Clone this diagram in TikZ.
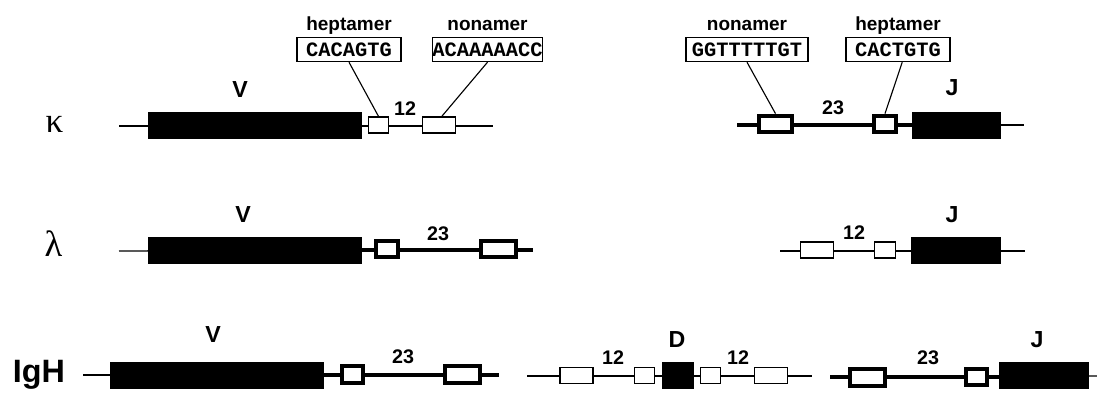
\documentclass[tikz,border=0pt]{standalone}
\usepackage{fontspec}
\setmainfont{Liberation Sans}
\setmonofont{Liberation Mono}
\newfontfamily\greekfont{Liberation Serif}
\usetikzlibrary{positioning}

\begin{document}
\begin{tikzpicture}[x=0.025cm,y=-0.025cm,
  thinline/.style={line width=0.9pt},
  thickline/.style={line width=2.8pt},
  leader/.style={line width=0.8pt},
  gene/.style={draw,fill=black,inner sep=0pt,minimum height=0.64cm},
  rss/.style={draw,fill=white,line width=0.9pt,inner sep=0pt,minimum height=0.4cm},
  rssbold/.style={draw,fill=white,line width=2.8pt,inner sep=0pt,minimum height=0.42cm},
  seqbox/.style={draw,line width=1pt,inner sep=0pt,minimum height=0.6cm,font=\fontsize{14.5}{16}\selectfont\ttfamily\bfseries},
  rsslabel/.style={font=\fontsize{13.5}{15}\selectfont\bfseries,inner sep=1pt,text height=0.75em,text depth=0.22em},
  genelabel/.style={font=\fontsize{16.5}{18}\selectfont\bfseries,inner sep=0pt},
  spacer/.style={font=\fontsize{14}{16}\selectfont\bfseries,inner sep=0pt}]
\useasboundingbox (0,0) rectangle (1097,393);

% kappa locus
\node[font=\greekfont\fontsize{25}{27}\selectfont,inner sep=0pt] (kappa) at (54.5,124) {κ};
\coordinate (k0) at (119,126); \coordinate (k1) at (493,126);
\coordinate (k2) at (737,125); \coordinate (k3) at (912,125); \coordinate (k4) at (1024,125);
\draw[thinline] (k0) -- (k1);
\draw[thickline] (k2) -- (k3); \draw[thinline] (k3) -- (k4);
\node[gene,minimum width=5.325cm] (kV) at (254.5,125.5) {};
\node[rss,minimum width=0.5cm] (kVh) at (378.5,125) {};
\node[rss,minimum width=0.82cm] (kVn) at (439,125) {};
\node[rssbold,minimum width=0.82cm] (kJn) at (775.5,124) {};
\node[rssbold,minimum width=0.55cm] (kJh) at (885,124) {};
\node[gene,minimum width=2.2cm] (kJ) at (956,125) {};
\node[genelabel] (kVlab) at (240,90) {V};
\node[spacer] (kVsp) at (405,109) {12};
\node[genelabel] (kJlab) at (952,88) {J};
\node[spacer] (kJsp) at (833,108) {23};

% Sequences
\node[seqbox,minimum width=2.6cm] (kVhseq) at (349,49.5) {CACAGTG};
\node[seqbox,minimum width=2.675cm] (kVnseq) at (487.5,49.5) {ACAAAAACC};
\node[seqbox,minimum width=3.05cm] (kJnseq) at (747,49.5) {GGTTTTTGT};
\node[seqbox,minimum width=2.6cm] (kJhseq) at (898,49.5) {CACTGTG};
\node[rsslabel,above=1pt of kVhseq] (kVhlab) {heptamer};
\node[rsslabel,above=1pt of kVnseq] (kVnlab) {nonamer};
\node[rsslabel,above=1pt of kJnseq] (kJnlab) {nonamer};
\node[rsslabel,above=1pt of kJhseq] (kJhlab) {heptamer};
\draw[leader] (kVhseq.south) -- (kVh.north);
\draw[leader] (kVnseq.south) -- ([xshift=2pt]kVn.north);
\draw[leader] (kJnseq.south) -- (kJn.north);
\draw[leader] ([xshift=3pt]kJhseq.south) -- (kJh.north);

% lambda locus
\node[font=\greekfont\fontsize{26}{28}\selectfont,inner sep=0pt] (lambda) at (53.5,243.5) {λ};
\coordinate (l0) at (119,251); \coordinate (l1) at (361,250); \coordinate (l2) at (533,250);
\coordinate (l3) at (780,251); \coordinate (l4) at (1025,251);
\draw[thinline] (l0) -- (l1);
\draw[thickline] (l1) -- (l2);
\draw[thinline] (l3) -- (l4);
\node[gene,minimum width=5.325cm] (lV) at (254.5,250) {};
\node[rssbold,minimum width=0.55cm] (lVh) at (387,249) {};
\node[rssbold,minimum width=0.875cm] (lVn) at (498.5,249) {};
\node[rss,minimum width=0.82cm] (lJn) at (817,250) {};
\node[rss,minimum width=0.52cm] (lJh) at (885,250) {};
\node[gene,minimum width=2.225cm] (lJ) at (955.5,250) {};
\node[genelabel] (lVlab) at (243,215) {V};
\node[spacer] (lVsp) at (438,234) {23};
\node[genelabel] (lJlab) at (952,215) {J};
\node[spacer] (lJsp) at (854,233) {12};

% heavy chain locus
\node[font=\fontsize{23}{25}\selectfont\bfseries] (igh) at (39,375) {IgH};
\coordinate (h0) at (83,375); \coordinate (h1) at (323,375); \coordinate (h2) at (499,375);
\coordinate (h3) at (527,376); \coordinate (h4) at (812,376);
\coordinate (h5) at (830,377); \coordinate (h6) at (1000,377); \coordinate (h7) at (1097,376);
\draw[thinline] (h0) -- (h1);
\draw[thickline] (h1) -- (h2);
\draw[thinline] (h3) -- (h4);
\draw[thickline] (h5) -- (h6); \draw[thinline] (h6) -- (h7);
\node[gene,minimum width=5.325cm] (hV) at (216.5,375) {};
\node[rssbold,minimum width=0.525cm] (hVh) at (352.5,374.5) {};
\node[rssbold,minimum width=0.875cm] (hVn) at (462.5,374.5) {};
\node[rss,minimum width=0.82cm] (hDn1) at (576.5,375.5) {};
\node[rss,minimum width=0.5cm] (hDh1) at (644.5,375.5) {};
\node[gene,minimum width=0.775cm] (hD) at (677.5,375.5) {};
\node[rss,minimum width=0.5cm] (hDh2) at (710.5,375.5) {};
\node[rss,minimum width=0.82cm] (hDn2) at (771,375.5) {};
\node[rssbold,minimum width=0.875cm] (hJn) at (867.5,377.5) {};
\node[rssbold,minimum width=0.525cm] (hJh) at (976.5,377) {};
\node[gene,minimum width=2.225cm] (hJ) at (1043.5,375.5) {};
\node[genelabel] (hVlab) at (213,335) {V};
\node[spacer] (hVsp) at (403,357) {23};
\node[genelabel] (hDlab) at (677,340) {D};
\node[spacer] (hDsp1) at (613,358) {12};
\node[spacer] (hDsp2) at (738,358) {12};
\node[genelabel] (hJlab) at (1037,340) {J};
\node[spacer] (hJsp) at (928,358) {23};
\end{tikzpicture}
\end{document}
